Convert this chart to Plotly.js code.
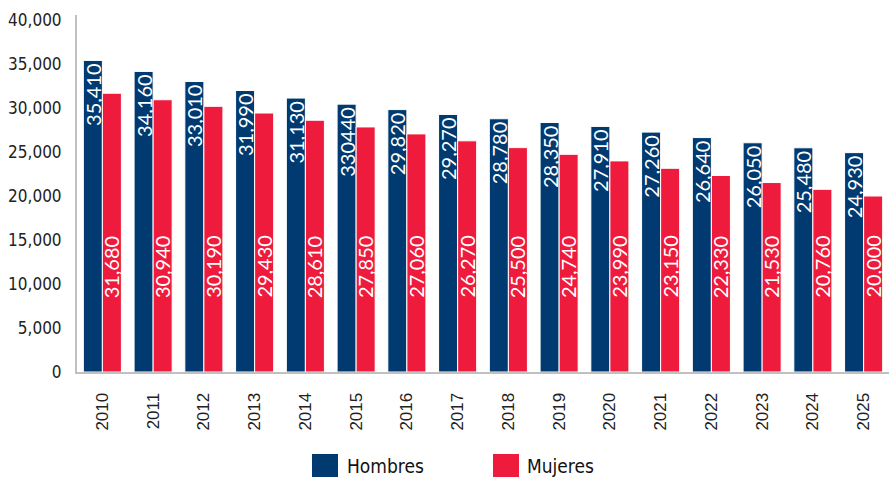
<!DOCTYPE html>
<html>
<head>
<meta charset="utf-8">
<script src="https://cdn.plot.ly/plotly-3.0.1.min.js"></script>
<style>html,body{margin:0;padding:0;background:#fff;}#chart{width:892px;height:477px;}</style>
</head>
<body>
<div id="chart"></div>
<script>
const years = ['2010','2011','2012','2013','2014','2015','2016','2017','2018','2019','2020','2021','2022','2023','2024','2025'];
const hombres = [35410,34160,33010,31990,31130,30440,29820,29270,28780,28350,27910,27260,26640,26050,25480,24930];
const mujeres = [31680,30940,30190,29430,28610,27850,27060,26270,25500,24740,23990,23150,22330,21530,20760,20000];
const hombresLabels = ['35,410','34,160','33,010','31,990','31,130','330440','29,820','29,270','28,780','28,350','27,910','27,260','26,640','26,050','25,480','24,930'];
const mujeresLabels = ['31,680','30,940','30,190','29,430','28,610','27,850','27,060','26,270','25,500','24,740','23,990','23,150','22,330','21,530','20,760','20,000'];
const seriesNames = ['Hombres','Mujeres'];
const colors = ['#003a70','#ee1b3c'];

const W = 892, H = 477;
const margin = {l:77, r:3, t:15, b:105};
const plotW = W - margin.l - margin.r;
const plotH = H - margin.t - margin.b;
const bargap = 0.25;
const barW = plotW / years.length * (1 - bargap) / 2;

const labelFont = {family:'Lato, "Open Sans", sans-serif', size:20, color:'#ffffff'};

const traces = [
  {type:'bar', name:seriesNames[0], x:years, y:hombres, text:hombresLabels,
   textposition:'inside', insidetextanchor:'end', textangle:-90, constraintext:'none',
   textfont:labelFont, marker:{color:colors[0], line:{color:'#ffffff', width:1}},
   showlegend:false},
  {type:'bar', name:seriesNames[1], x:years, y:mujeres,
   marker:{color:colors[1], line:{color:'#ffffff', width:1}},
   showlegend:false}
];

const annotations = years.map((yr,i) => ({
  x: i, y: 15800, xref:'x', yref:'y', text: mujeresLabels[i], showarrow:false,
  textangle:-90, xanchor:'center', yanchor:'top', xshift: barW/2,
  font: labelFont
}));

const pxX = p => (p - margin.l) / plotW;
const pxY = p => (H - margin.b - p) / plotH;
const shapes = [];
const legendItems = [
  {x0:312, x1:338, tx:345, color:colors[0], label:seriesNames[0]},
  {x0:493, x1:519, tx:525, color:colors[1], label:seriesNames[1]}
];
const narrow = '"DejaVu Sans Condensed", sans-serif';
legendItems.forEach(it => {
  shapes.push({type:'rect', xref:'paper', yref:'paper', x0:pxX(it.x0), x1:pxX(it.x1), y0:pxY(477), y1:pxY(454),
    fillcolor:it.color, line:{width:0}});
  annotations.push({xref:'paper', yref:'paper', x:pxX(it.tx), y:pxY(466), xanchor:'left', yanchor:'middle',
    text:it.label, showarrow:false, font:{family:narrow, size:19, color:'#111'}});
});

const layout = {
  width:W, height:H, margin:margin, paper_bgcolor:'#fff', plot_bgcolor:'#fff',
  barmode:'group', bargap:bargap, bargroupgap:0,
  showlegend:false,
  xaxis:{type:'category', tickangle:-90, showgrid:false, showline:true, linecolor:'#c0c0c0', linewidth:2,
    ticks:'outside', ticklen:12, tickcolor:'rgba(0,0,0,0)',
    tickfont:{family:'"Liberation Sans", Arial, sans-serif', size:17, color:'#222'}},
  yaxis:{range:[0,40570], tickvals:[0,5000,10000,15000,20000,25000,30000,35000,40000],
    ticktext:['0','5,000','10,000','15,000','20,000','25,000','30,000','35,000','40,000'],
    showgrid:false, zeroline:false, showline:true, linecolor:'#c0c0c0', linewidth:2,
    ticks:'outside', ticklen:10, tickcolor:'rgba(0,0,0,0)',
    tickfont:{family:narrow, size:17, color:'#222'}},
  annotations:annotations, shapes:shapes
};

Plotly.newPlot('chart', traces, layout, {displayModeBar:false, staticPlot:true});
</script>
</body>
</html>
